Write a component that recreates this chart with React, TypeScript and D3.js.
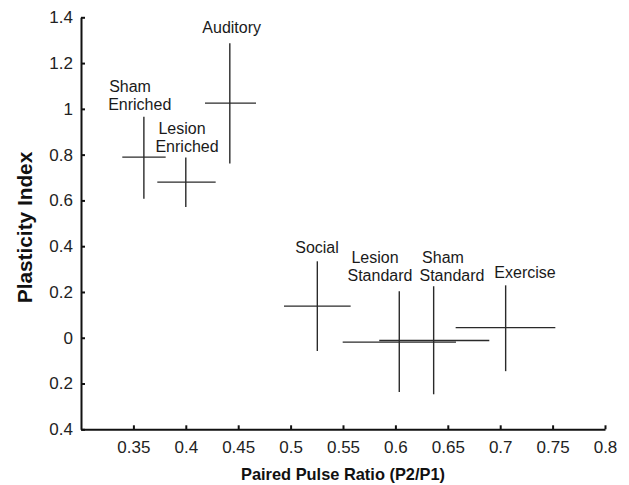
import React, { useRef, useEffect } from 'react';
import * as d3 from 'd3';

// groups and their means / error extents
const groups = ['Sham Enriched', 'Lesion Enriched', 'Auditory', 'Social', 'Lesion Standard', 'Sham Standard', 'Exercise'];
const labelLines = [['Sham', 'Enriched'], ['Lesion', 'Enriched'], ['Auditory'], ['Social'], ['Lesion', 'Standard'], ['Sham', 'Standard'], ['Exercise']];
const ppr = [0.36, 0.4, 0.442, 0.5255, 0.6037, 0.6365, 0.7052];
const pprLow = [0.3394, 0.3728, 0.4183, 0.4937, 0.5497, 0.5846, 0.6575];
const pprHigh = [0.3808, 0.4285, 0.467, 0.5573, 0.6578, 0.6896, 0.7526];
const plasticity = [0.789, 0.68, 1.025, 0.138, -0.019, -0.012, 0.044];
const plasticityLow = [0.607, 0.571, 0.761, -0.058, -0.237, -0.247, -0.146];
const plasticityHigh = [0.966, 0.788, 1.287, 0.334, 0.203, 0.225, 0.229];

const xTicks = [0.35, 0.4, 0.45, 0.5, 0.55, 0.6, 0.65, 0.7, 0.75, 0.8];
const xTickLabels = ['0.35', '0.4', '0.45', '0.5', '0.55', '0.6', '0.65', '0.7', '0.75', '0.8'];
const yTicks = [1.4, 1.2, 1, 0.8, 0.6, 0.4, 0.2, 0, -0.2, -0.4];
const yTickLabels = ['1.4', '1.2', '1', '0.8', '0.6', '0.4', '0.2', '0', '0.2', '0.4'];

// label placement: anchor in data units (first line centre / baseline), extra x shift of 2nd line in px
const labelAt = [
  { x: 0.3468, y: 1.075, dx2: 9.7 },
  { x: 0.3964, y: 0.89, dx2: 5 },
  { x: 0.4438, y: 1.33, dx2: 0 },
  { x: 0.5252, y: 0.372, dx2: 0 },
  { x: 0.5805, y: 0.327, dx2: 5 },
  { x: 0.6454, y: 0.328, dx2: 9 },
  { x: 0.7237, y: 0.262, dx2: 0 },
];

const W = 629;
const H = 485;
const FONT = "'Liberation Sans', Arial, Helvetica, sans-serif";

export default function App() {
  const svgRef = useRef<SVGSVGElement | null>(null);

  useEffect(() => {
    if (!svgRef.current) return;
    const svg = d3.select(svgRef.current);
    svg.selectAll('*').remove();

    const margin = { top: 17.3, right: 24, bottom: 55.7, left: 81 };

    const x = d3.scaleLinear().domain([0.3, 0.8]).range([margin.left, W - margin.right]);
    const y = d3.scaleLinear().domain([-0.4, 1.4]).range([H - margin.bottom, margin.top]);

    // crosses
    const g = svg.append('g').attr('stroke', '#2a2a2a').attr('stroke-width', 1.4);
    groups.forEach((_, i) => {
      g.append('line')
        .attr('x1', x(pprLow[i])).attr('x2', x(pprHigh[i]))
        .attr('y1', y(plasticity[i])).attr('y2', y(plasticity[i]));
      g.append('line')
        .attr('x1', x(ppr[i])).attr('x2', x(ppr[i]))
        .attr('y1', y(plasticityLow[i])).attr('y2', y(plasticityHigh[i]));
    });

    // labels
    const lg = svg.append('g')
      .attr('font-family', FONT)
      .attr('font-size', 16)
      .attr('fill', '#1a1a1a')
      .attr('text-anchor', 'middle');
    labelLines.forEach((lines, i) => {
      lines.forEach((t, j) => {
        lg.append('text')
          .attr('x', x(labelAt[i].x) + (j > 0 ? labelAt[i].dx2 : 0))
          .attr('y', y(labelAt[i].y) + j * 18.4)
          .text(t);
      });
    });

    // axes
    const xAxis = svg.append('g')
      .attr('transform', `translate(0,${y(-0.4)})`)
      .call(d3.axisBottom(x).tickValues(xTicks).tickSizeInner(-4).tickSizeOuter(0).tickPadding(12)
        .tickFormat((_, i) => xTickLabels[i]));

    const yAxis = svg.append('g')
      .attr('transform', `translate(${x(0.3)},0)`)
      .call(d3.axisLeft(y).tickValues(yTicks).tickSizeInner(-4).tickSizeOuter(0).tickPadding(8)
        .tickFormat((_, i) => yTickLabels[i]));

    [xAxis, yAxis].forEach(ax => {
      ax.select('.domain').attr('stroke', '#111').attr('stroke-width', 2);
      ax.selectAll('.tick line').attr('stroke', '#111').attr('stroke-width', 2);
      ax.selectAll('.tick text')
        .attr('font-family', FONT)
        .attr('font-size', 17)
        .attr('fill', '#222');
    });

    // axis titles
    svg.append('text')
      .attr('x', (x(0.3) + x(0.8)) / 2)
      .attr('y', 480)
      .attr('text-anchor', 'middle')
      .attr('font-family', FONT)
      .attr('font-weight', 'bold')
      .attr('font-size', 16.4)
      .attr('fill', '#111')
      .text('Paired Pulse Ratio (P2/P1)');

    svg.append('text')
      .attr('transform', `translate(31.6,227.5) rotate(-90)`)
      .attr('text-anchor', 'middle')
      .attr('font-family', FONT)
      .attr('font-weight', 'bold')
      .attr('font-size', 20.8)
      .attr('fill', '#111')
      .text('Plasticity Index');
  }, []);

  return (
    <svg
      ref={svgRef}
      width={W}
      height={H}
      style={{ position: 'absolute', left: 0, top: 0, background: '#fff' }}
    />
  );
}
